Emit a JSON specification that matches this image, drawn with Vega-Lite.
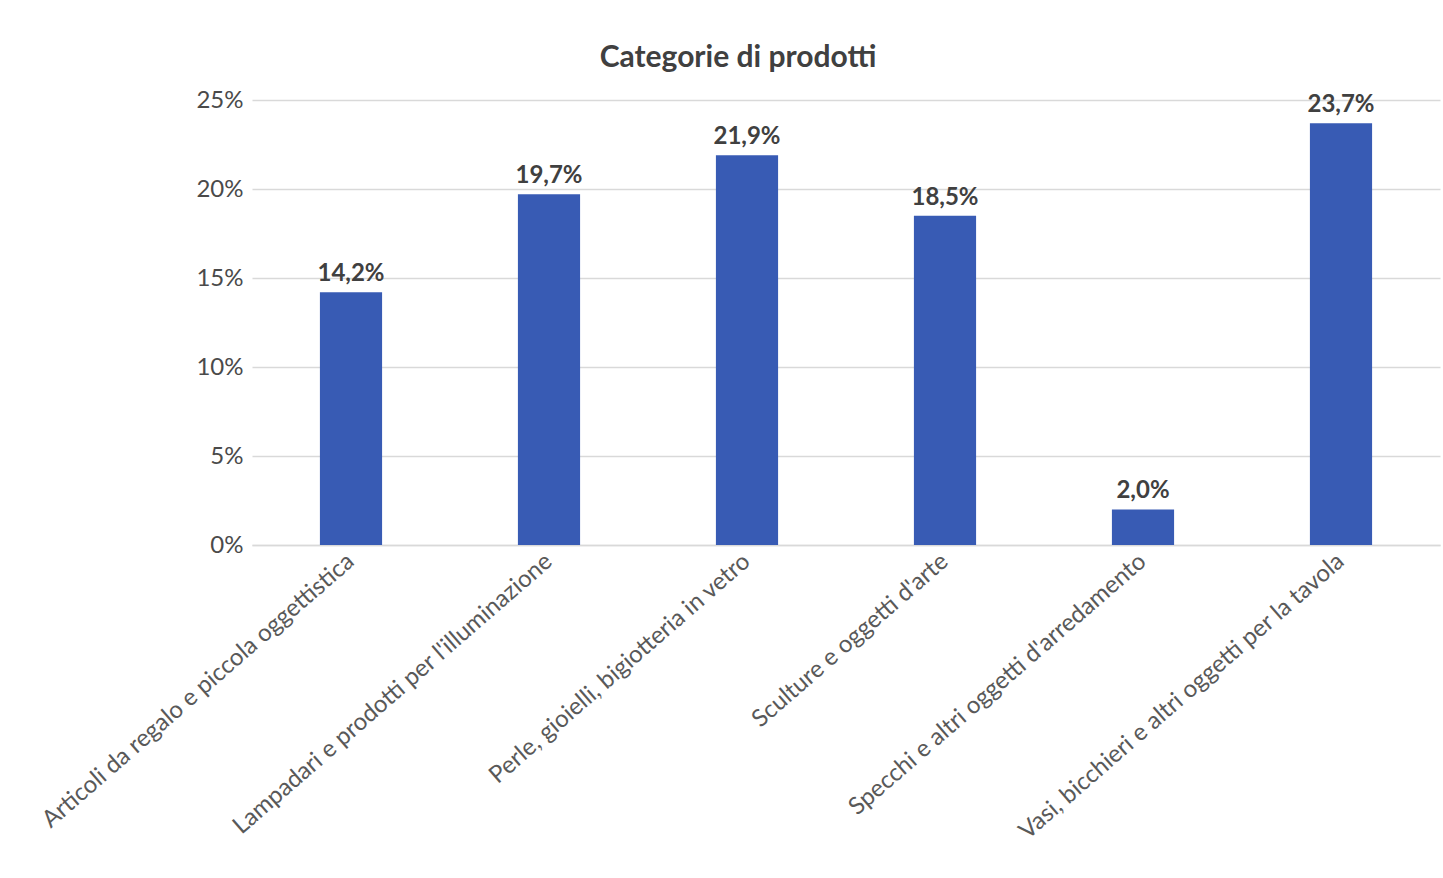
{
  "$schema": "https://vega.github.io/schema/vega-lite/v6.json",
  "autosize": {"type": "none"},
  "width": 1188,
  "height": 445,
  "padding": {"left": 252, "top": 100, "right": 3, "bottom": 333},
  "background": "white",
  "config": {
    "locale": {"number": {"decimal": ",", "thousands": ".", "grouping": [3], "currency": ["€", ""]}},
    "view": {"stroke": null},
    "font": "Lato"
  },
  "title": {
    "text": "Categorie di prodotti",
    "anchor": "middle",
    "dx": -108,
    "offset": 15,
    "fontSize": 30,
    "fontWeight": "bold",
    "color": "#404040",
    "font": "Lato"
  },
  "data": {
    "values": [
      {"categoria": "Articoli da regalo e piccola oggettistica", "quota": 0.142},
      {"categoria": "Lampadari e prodotti per l'illuminazione", "quota": 0.197},
      {"categoria": "Perle, gioielli, bigiotteria in vetro", "quota": 0.219},
      {"categoria": "Sculture e oggetti d'arte", "quota": 0.185},
      {"categoria": "Specchi e altri oggetti d'arredamento", "quota": 0.020},
      {"categoria": "Vasi, bicchieri e altri oggetti per la tavola", "quota": 0.237}
    ]
  },
  "encoding": {
    "x": {
      "field": "categoria",
      "type": "nominal",
      "sort": null,
      "scale": {"paddingInner": 0.686, "paddingOuter": 0.343},
      "axis": {
        "title": null,
        "labelAngle": -41,
        "labelAlign": "right",
        "labelBaseline": "middle",
        "labelFontSize": 24,
        "labelColor": "#595959",
        "labelPadding": 13,
        "labelLimit": 700,
        "ticks": false,
        "domainColor": "#d9d9d9",
        "domainWidth": 1.5,
        "grid": false
      }
    },
    "y": {
      "field": "quota",
      "type": "quantitative",
      "scale": {"domain": [0, 0.25], "nice": false},
      "axis": {
        "title": null,
        "format": ".0%",
        "values": [0, 0.05, 0.1, 0.15, 0.2, 0.25],
        "labelFontSize": 24,
        "labelColor": "#4a4a4a",
        "labelPadding": 9,
        "ticks": false,
        "domain": false,
        "gridColor": "#d9d9d9",
        "gridWidth": 1.5
      }
    }
  },
  "layer": [
    {"mark": {"type": "bar", "color": "#385BB4"}},
    {
      "mark": {"type": "text", "baseline": "bottom", "dy": -6, "fontSize": 24, "fontWeight": "bold", "color": "#404040", "font": "Lato"},
      "encoding": {"text": {"field": "quota", "type": "quantitative", "format": ".1%"}}
    }
  ]
}
